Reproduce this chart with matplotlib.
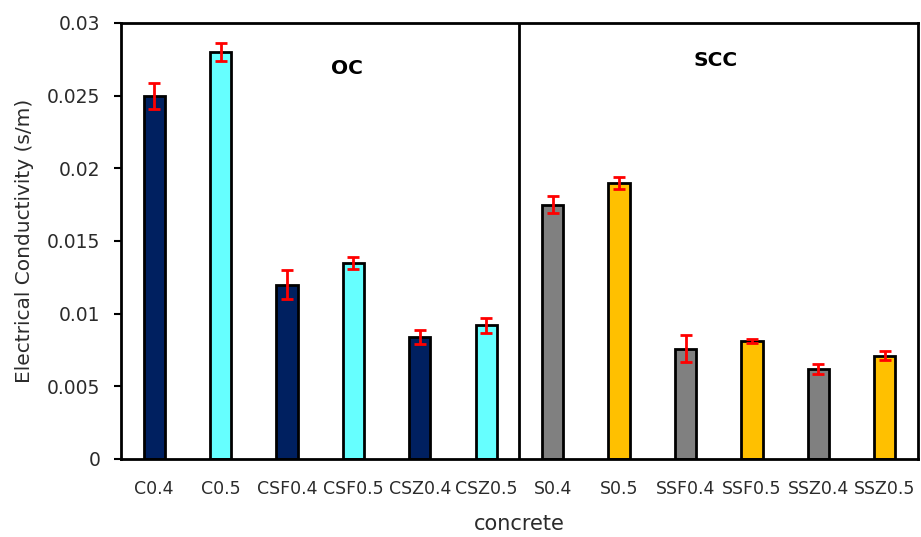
import matplotlib
matplotlib.use("Agg")
import matplotlib.pyplot as plt
import numpy as np

plt.rcParams['font.family'] = ['DejaVu Sans']

categories = ["C0.4", "C0.5", "CSF0.4", "CSF0.5", "CSZ0.4", "CSZ0.5",
              "S0.4", "S0.5", "SSF0.4", "SSF0.5", "SSZ0.4", "SSZ0.5"]
conductivity = [0.0250, 0.0280, 0.0120, 0.0135, 0.0084, 0.0092,
                0.0175, 0.0190, 0.0076, 0.0081, 0.0062, 0.0071]
errors = [0.0009, 0.0006, 0.0010, 0.0004, 0.0005, 0.0005,
          0.0006, 0.0004, 0.0009, 0.00015, 0.00035, 0.0003]
bar_colors = ["#002060", "#66FFFF", "#002060", "#66FFFF", "#002060", "#66FFFF",
              "#808080", "#FFC000", "#808080", "#FFC000", "#808080", "#FFC000"]
group_labels = ["OC", "SCC"]
yticks = [0, 0.005, 0.01, 0.015, 0.02, 0.025, 0.03]
ytick_labels = ["0", "0.005", "0.01", "0.015", "0.02", "0.025", "0.03"]

text_color = "#2b2b2b"

fig = plt.figure(figsize=(9.21, 5.37), dpi=100)
ax = fig.add_axes([0.1314, 0.1453, 0.8653, 0.8119])

x = np.arange(len(categories))
ax.bar(x, conductivity, width=0.32, color=bar_colors, edgecolor="black",
       linewidth=2, zorder=2)
ax.errorbar(x, conductivity, yerr=errors, fmt="none", ecolor="#FF0000",
            elinewidth=2, capsize=4.5, capthick=2, zorder=3)

ax.set_xlim(-0.5, len(categories) - 0.5)
ax.set_ylim(0, 0.03)
ax.set_yticks(yticks)
ax.set_yticklabels(ytick_labels, fontsize=13.5, color=text_color)
ax.set_xticks(x)
ax.set_xticklabels(categories, fontsize=12.5, color=text_color)
ax.tick_params(axis="x", length=0, pad=15)
ax.tick_params(axis="y", length=5, width=1.5, direction="out", pad=10)

for s in ax.spines.values():
    s.set_linewidth(2)
    s.set_color("black")

# divider between the two concrete groups
ax.axvline(5.5, color="black", linewidth=2, zorder=4)

ax.text(2.9, 0.0269, group_labels[0], fontsize=14.5, fontweight="bold",
        ha="center", va="center")
ax.text(8.45, 0.0274, group_labels[1], fontsize=14.5, fontweight="bold",
        ha="center", va="center")

ax.set_ylabel("Electrical Conductivity (s/m)", fontsize=14.5, color=text_color,
              labelpad=9)
ax.set_xlabel("concrete", fontsize=15, color=text_color, labelpad=12)

fig.savefig("out.png", dpi=100)
